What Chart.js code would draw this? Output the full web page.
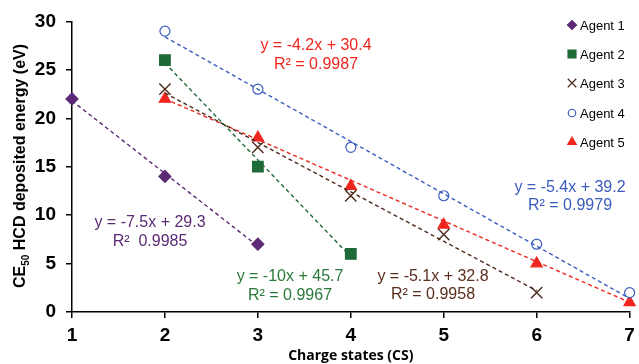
<!DOCTYPE html>
<html>
<head>
<meta charset="utf-8">
<script src="https://cdn.jsdelivr.net/npm/chart.js@4.4.1/dist/chart.umd.min.js"></script>
<style>
  html, body { margin: 0; padding: 0; background: #fff; }
  #wrap { width: 639px; height: 364px; }
</style>
</head>
<body>
<div id="wrap"><canvas id="myChart" width="639" height="364"></canvas></div>
<script>
// charge states on the x axis
const chargeStates = [1, 2, 3, 4, 5, 6, 7];

// CE50 values per agent (null = not measured)
const agent1 = [22, 14, 7, null, null, null, null];
const agent2 = [null, 26, 15, 6, null, null, null];
const agent3 = [null, 23, 17, 12, 8, 2, null];
const agent4 = [null, 29, 23, 17, 12, 7, 2];
const agent5 = [null, 22, 18, 13, 9, 5, 1];

// trendline end points
const trendX1 = [1, 3], trendY1 = [21.8, 6.8];
const trendX2 = [2, 4], trendY2 = [25.7, 5.7];
const trendX3 = [2, 6], trendY3 = [22.6, 2.2];
const trendX4 = [2, 7], trendY4 = [28.4, 1.4];
const trendX5 = [2, 7], trendY5 = [22, 1];

const agentNames = ["Agent 1", "Agent 2", "Agent 3", "Agent 4", "Agent 5"];
const equations = [
  ["y = -7.5x + 29.3", "R²  0.9985"],
  ["y = -10x + 45.7", "R² = 0.9967"],
  ["y = -5.1x + 32.8", "R² = 0.9958"],
  ["y = -5.4x + 39.2", "R² = 0.9979"],
  ["y = -4.2x + 30.4", "R² = 0.9987"]
];

const colors = ["#5c2a74", "#1f6b38", "#4b2a1c", "#3b5bbf", "#f0261e"];
const textColors = ["#5c2a74", "#2a7a3a", "#5a2d1c", "#3b5bbf", "#f0261e"];
const markerStyles = [
  { pointStyle: "rectRot", radius: 6, fill: colors[0] },
  { pointStyle: "rect", radius: 7.5, fill: colors[1] },
  { pointStyle: "crossRot", radius: 8, fill: colors[2] },
  { pointStyle: "circle", radius: 5, fill: "#fff" },
  { pointStyle: "triangle", radius: 6.5, fill: colors[4] }
];

function toPoints(xs, ys) {
  const pts = [];
  xs.forEach((x, i) => { if (ys[i] !== null) pts.push({ x: x, y: ys[i] }); });
  return pts;
}

const agents = [agent1, agent2, agent3, agent4, agent5];
const trends = [[trendX1, trendY1], [trendX2, trendY2], [trendX3, trendY3], [trendX4, trendY4], [trendX5, trendY5]];

const datasets = [];
trends.forEach((t, i) => {
  datasets.push({
    label: agentNames[i] + " trend",
    data: toPoints(t[0], t[1]),
    showLine: true,
    borderColor: colors[i],
    borderWidth: 1.4,
    borderDash: [4, 3],
    pointRadius: 0,
    fill: false
  });
});
agents.forEach((a, i) => {
  datasets.push({
    label: agentNames[i],
    data: toPoints(chargeStates, a),
    showLine: false,
    pointStyle: markerStyles[i].pointStyle,
    pointRadius: markerStyles[i].radius,
    pointBackgroundColor: markerStyles[i].fill,
    pointBorderColor: colors[i],
    pointBorderWidth: i == 2 ? 1.4 : 1.2,
    clip: false
  });
});

// legend, equations and y title drawn by hand
const extras = {
  id: "extras",
  afterDraw(chart) {
    const ctx = chart.ctx;
    ctx.save();

    // legend
    const legY = [25, 54, 83, 113, 142];
    agentNames.forEach((name, i) => {
      const m = markerStyles[i];
      ctx.fillStyle = m.fill;
      ctx.strokeStyle = colors[i];
      ctx.lineWidth = 1.2;
      Chart.helpers.drawPoint(ctx, { pointStyle: m.pointStyle, radius: m.radius * 0.75, borderWidth: 1.2 }, 572, legY[i]);
      ctx.fillStyle = "#000";
      ctx.font = "13px 'Liberation Sans', Arial, sans-serif";
      ctx.textAlign = "left";
      ctx.textBaseline = "middle";
      ctx.fillText(name, 580, legY[i] + 1);
    });

    // regression equations
    const eqPos = [[150, 223, 242], [290, 277, 296], [433, 277, 295], [570, 188, 206], [316, 46, 65]];
    ctx.font = "16px 'Liberation Sans', Arial, sans-serif";
    ctx.textAlign = "center";
    ctx.textBaseline = "middle";
    equations.forEach((eq, i) => {
      ctx.fillStyle = textColors[i];
      ctx.fillText(eq[0], eqPos[i][0], eqPos[i][1]);
      ctx.fillText(eq[1], eqPos[i][0], eqPos[i][2]);
    });

    // y axis title with subscript
    ctx.translate(21, 166);
    ctx.rotate(-Math.PI / 2);
    ctx.fillStyle = "#000";
    ctx.textBaseline = "middle";
    ctx.textAlign = "left";
    const big = "bold 16px 'Liberation Sans', Arial, sans-serif";
    const small = "bold 10px 'Liberation Sans', Arial, sans-serif";
    const p1 = "CE", p2 = "50", p3 = " HCD deposited energy (eV)";
    ctx.font = big;
    const w1 = ctx.measureText(p1).width, w3 = ctx.measureText(p3).width;
    ctx.font = small;
    const w2 = ctx.measureText(p2).width;
    let x = -(w1 + w2 + w3) / 2;
    ctx.font = big;
    ctx.fillText(p1, x, 0);
    x += w1;
    ctx.font = small;
    ctx.fillText(p2, x, 5);
    x += w2;
    ctx.font = big;
    ctx.fillText(p3, x, 0);

    ctx.restore();
  }
};

const ctx = document.getElementById("myChart");
const myChart = new Chart(ctx, {
  type: "scatter",
  data: { datasets: datasets },
  options: {
    responsive: false,
    animation: false,
    layout: { padding: { top: 21, right: 0, left: 0, bottom: 0 } },
    plugins: {
      legend: { display: false },
      tooltip: { enabled: false }
    },
    scales: {
      x: {
        type: "linear",
        min: 1,
        max: 7,
        afterFit: (scale) => { scale.height = 52; scale.paddingRight = 0; },
        ticks: {
          stepSize: 1,
          color: "#000",
          padding: 6,
          font: { family: "'Liberation Sans', Arial, sans-serif", size: 19, weight: "bold" }
        },
        grid: { drawOnChartArea: false, drawTicks: true, tickLength: 6, color: "#000", lineWidth: 1.5 },
        border: { color: "#000", width: 1.5 },
        title: {
          display: true,
          text: "Charge states (CS)",
          color: "#000",
          padding: { top: 0, bottom: 0 },
          font: { family: "'Open Sans', sans-serif", size: 14, weight: "bold" }
        }
      },
      y: {
        min: 0,
        max: 30,
        afterFit: (scale) => { scale.width = 72; },
        ticks: {
          stepSize: 5,
          color: "#000",
          padding: 10,
          font: { family: "'Liberation Sans', Arial, sans-serif", size: 19, weight: "bold" }
        },
        grid: { drawOnChartArea: false, drawTicks: true, tickLength: 6, color: "#000", lineWidth: 1.5 },
        border: { color: "#000", width: 1.5 }
      }
    }
  },
  plugins: [extras]
});
</script>
</body>
</html>
